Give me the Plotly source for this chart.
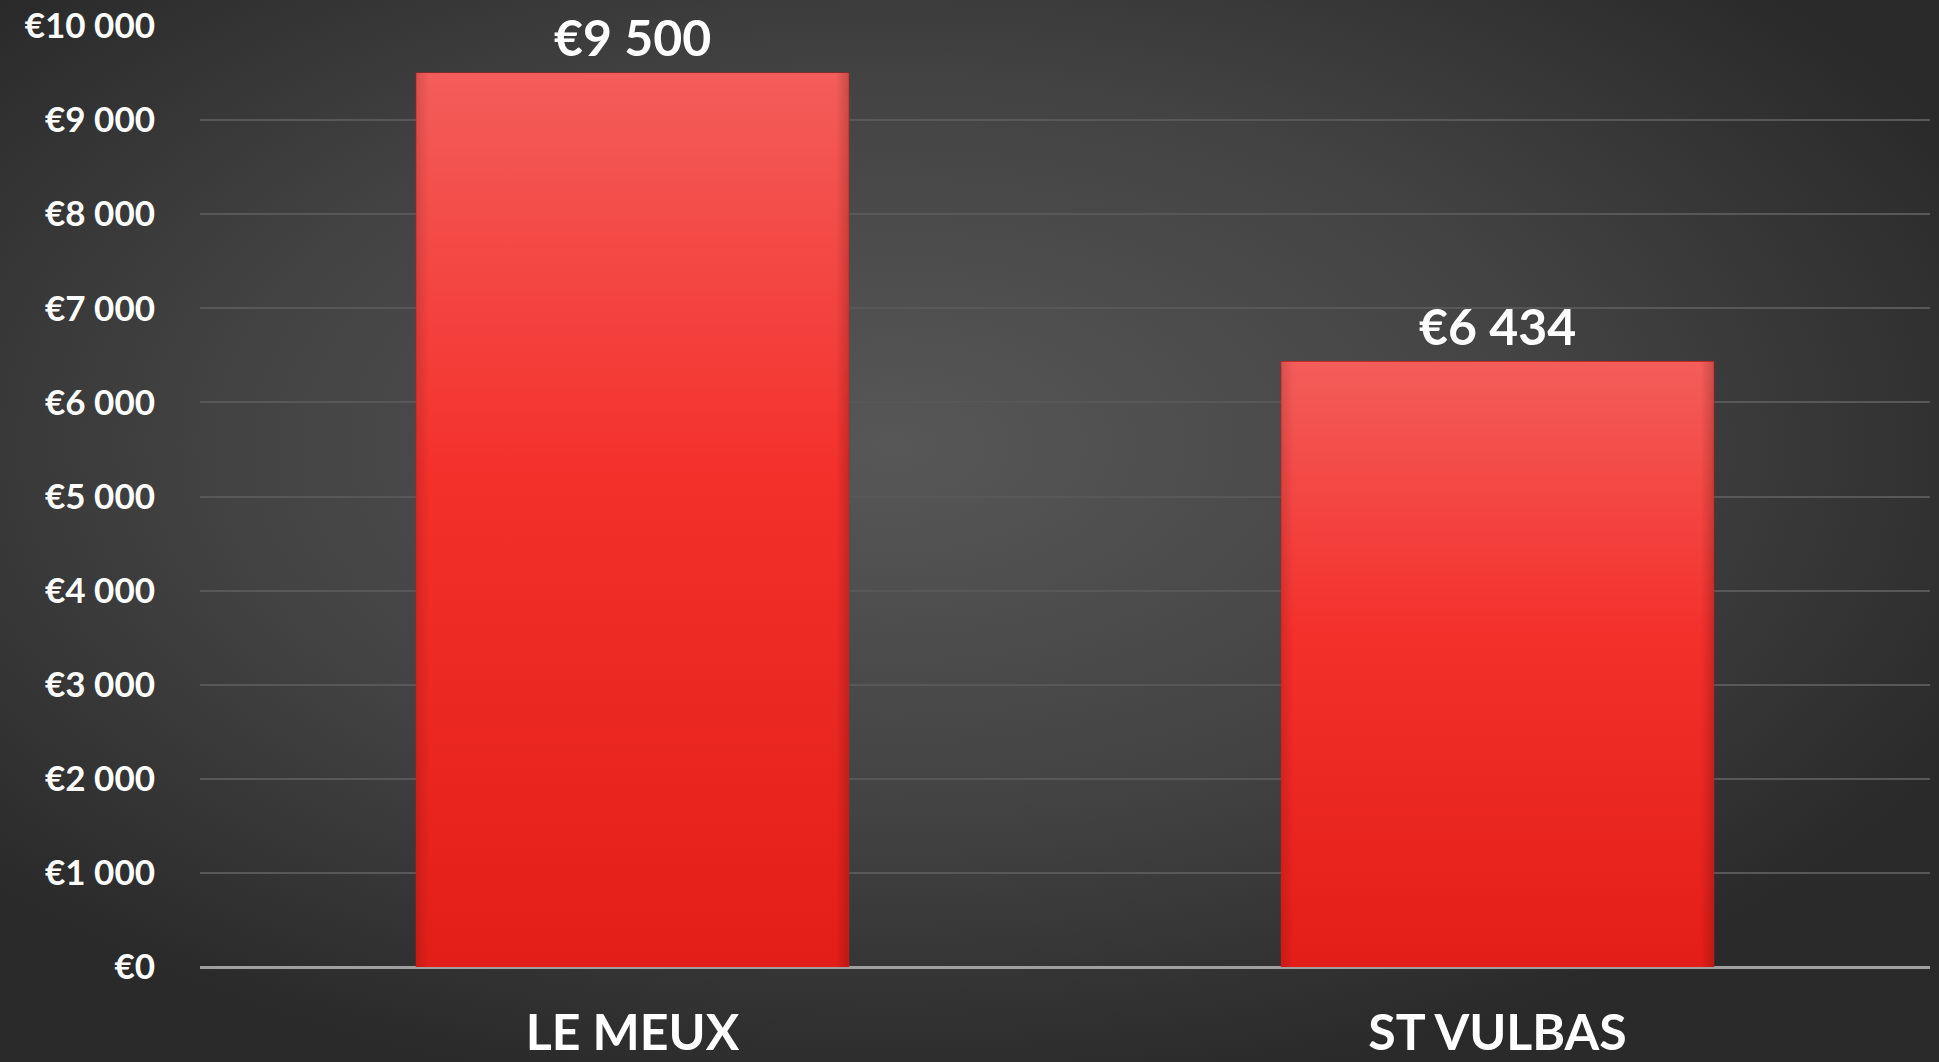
import plotly.graph_objects as go

categories = ["LE MEUX", "ST VULBAS"]
values = [9500, 6434]
tick_values = [0, 1000, 2000, 3000, 4000, 5000, 6000, 7000, 8000, 9000, 10000]


def euro(v):
    return "€" + f"{v:,}".replace(",", " ")


tick_labels = [euro(v) for v in tick_values]
bar_labels = [euro(v) for v in values]

W, H = 1939, 1062
ML, MR, MT, MB = 200, 9, 26, 95
PW, PH = W - ML - MR, H - MT - MB
BAR_W = 0.5

FONT = "Lato"

bg_svg = (
    "data:image/svg+xml;utf8,"
    "<svg xmlns='http://www.w3.org/2000/svg' width='1939' height='1062'>"
    "<defs><radialGradient id='g' cx='0.46' cy='0.42' r='0.62' gradientUnits='objectBoundingBox'>"
    "<stop offset='0' stop-color='%23575757'/>"
    "<stop offset='0.55' stop-color='%23434343'/>"
    "<stop offset='1' stop-color='%232a2a2a'/>"
    "</radialGradient></defs>"
    "<rect width='1939' height='1062' fill='url(%23g)'/></svg>"
)

bar_svg = (
    "data:image/svg+xml;utf8,"
    "<svg xmlns='http://www.w3.org/2000/svg' width='100' height='100' preserveAspectRatio='none' viewBox='0 0 100 100'>"
    "<defs><linearGradient id='b' x1='0' y1='0' x2='0' y2='1'>"
    "<stop offset='0' stop-color='%23f35d5a'/>"
    "<stop offset='0.45' stop-color='%23f4302b'/>"
    "<stop offset='1' stop-color='%23e31e18'/>"
    "</linearGradient>"
    "<linearGradient id='s' x1='0' y1='0' x2='1' y2='0'>"
    "<stop offset='0' stop-color='%23000' stop-opacity='0.12'/>"
    "<stop offset='0.03' stop-color='%23000' stop-opacity='0'/>"
    "<stop offset='0.97' stop-color='%23000' stop-opacity='0'/>"
    "<stop offset='1' stop-color='%23000' stop-opacity='0.18'/>"
    "</linearGradient></defs>"
    "<rect width='100' height='100' fill='url(%23b)'/>"
    "<rect width='100' height='100' fill='url(%23s)'/></svg>"
)

fig = go.Figure()
fig.add_trace(go.Bar(
    x=categories,
    y=values,
    marker=dict(color="#ee3430", line=dict(color="#c41a16", width=1)),
    width=BAR_W,
))

images = [dict(
    source=bg_svg,
    xref="paper", yref="paper",
    x=-ML / PW, y=1 + MT / PH,
    sizex=W / PW, sizey=H / PH,
    xanchor="left", yanchor="top",
    sizing="stretch",
    layer="below",
)]
for i, v in enumerate(values):
    images.append(dict(
        source=bar_svg,
        xref="x", yref="y",
        x=i - BAR_W / 2, y=v,
        sizex=BAR_W, sizey=v,
        xanchor="left", yanchor="top",
        sizing="stretch",
        layer="above",
    ))

annotations = [
    dict(
        x=c, y=v, text=t, showarrow=False,
        xref="x", yref="y", yanchor="bottom", yshift=5, borderpad=0,
        font=dict(family=FONT, size=50, color="white", weight="bold"),
    )
    for c, v, t in zip(categories, values, bar_labels)
]

fig.update_layout(
    width=W,
    height=H,
    margin=dict(l=ML, r=MR, t=MT, b=MB, pad=0, autoexpand=False),
    paper_bgcolor="#3a3a3a",
    plot_bgcolor="rgba(0,0,0,0)",
    showlegend=False,
    images=images,
    annotations=annotations,
    xaxis=dict(
        showgrid=False,
        automargin=False,
        tickfont=dict(family=FONT, size=50, color="white", weight="bold"),
        ticks="",
        ticklabelstandoff=32,
        showline=False,
        zeroline=False,
    ),
    yaxis=dict(
        range=[0, 10000],
        automargin=False,
        tickvals=tick_values,
        ticktext=tick_labels,
        tickfont=dict(family=FONT, size=35, color="white", weight="bold"),
        showgrid=True,
        gridcolor="#585858",
        gridwidth=1.5,
        zeroline=True,
        zerolinecolor="#a0a0a0",
        zerolinewidth=2.5,
        ticks="",
        ticklabelstandoff=44,
        showline=False,
    ),
)

fig.write_html(
    "out.html",
    config={"displayModeBar": False},
    post_script="document.body.style.margin='0';document.body.style.overflow='hidden';",
)
